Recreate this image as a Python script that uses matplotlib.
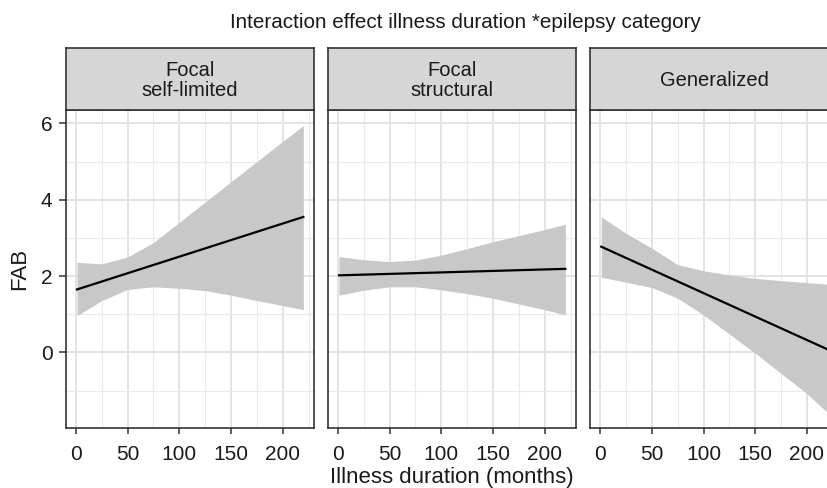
import matplotlib
matplotlib.use("Agg")
import matplotlib.pyplot as plt

plt.rcParams['font.family'] = ['Liberation Sans', 'DejaVu Sans']

# ---- data ----
panels = ["Focal\nself-limited", "Focal\nstructural", "Generalized"]
x_band = [1, 25, 50, 75, 100, 125, 150, 175, 200, 220]
upper_self = [2.36, 2.32, 2.50, 2.88, 3.41, 3.94, 4.47, 5.00, 5.53, 5.94]
lower_self = [0.96, 1.36, 1.65, 1.72, 1.68, 1.62, 1.50, 1.36, 1.23, 1.12]
upper_struct = [2.51, 2.43, 2.38, 2.42, 2.55, 2.72, 2.90, 3.06, 3.22, 3.36]
lower_struct = [1.50, 1.63, 1.72, 1.72, 1.64, 1.54, 1.42, 1.27, 1.12, 0.98]
upper_gen = [3.55, 3.12, 2.73, 2.30, 2.14, 2.03, 1.94, 1.88, 1.83, 1.79]
lower_gen = [1.97, 1.84, 1.70, 1.42, 0.98, 0.48, -0.02, -0.55, -1.08, -1.58]
x_line = [1, 220]
line_self = [1.65, 3.55]
line_struct = [2.02, 2.19]
line_gen = [2.77, 0.08]
x_ticks = [0, 50, 100, 150, 200]
y_ticks = [0, 2, 4, 6]

uppers = [upper_self, upper_struct, upper_gen]
lowers = [lower_self, lower_struct, lower_gen]
lines = [line_self, line_struct, line_gen]

W, H = 827, 488
fig = plt.figure(figsize=(W / 100, H / 100), dpi=100)

txt = "#1a1a1a"
border = "#333333"
lefts = [65.7, 327.7, 590.0]
pw = 248.0
ptop, pbot = 110.0, 427.7
stop = 48.0

for i, name in enumerate(panels):
    l = lefts[i]
    ax = fig.add_axes([l / W, (H - pbot) / H, pw / W, (pbot - ptop) / H])
    ax.set_xlim(-9.9, 230)
    ax.set_ylim(-1.97, 6.35)
    ax.set_xticks(x_ticks)
    ax.set_xticks([25, 75, 125, 175, 225], minor=True)
    ax.set_yticks(y_ticks)
    ax.set_yticks([-1, 1, 3, 5], minor=True)
    ax.grid(True, which="major", color="#e3e3e3", linewidth=1.4, zorder=0)
    ax.grid(True, which="minor", color="#eaeaea", linewidth=0.8, zorder=0)
    ax.set_axisbelow(True)
    ax.fill_between(x_band, lowers[i], uppers[i], color="#c8c8c8", linewidth=0, zorder=2)
    ax.plot(x_line, lines[i], color="black", linewidth=1.6, zorder=3)
    for s in ax.spines.values():
        s.set_color(border)
        s.set_linewidth(1.2)
        s.set_zorder(5)
    ax.tick_params(axis="x", which="major", length=4, width=1.1, color=border,
                   labelsize=15, labelcolor=txt, pad=8.5)
    ax.tick_params(axis="y", which="major", length=5, width=1.1, color=border,
                   labelsize=15, labelcolor=txt, pad=4.5)
    ax.tick_params(axis="both", which="minor", length=0)
    if i > 0:
        ax.tick_params(axis="y", which="major", length=0, labelleft=False)
    # strip
    sax = fig.add_axes([l / W, (H - ptop) / H, pw / W, (ptop - stop) / H])
    sax.set_xlim(0, 1)
    sax.set_ylim(0, 1)
    sax.set_xticks([])
    sax.set_yticks([])
    sax.set_facecolor("#d6d6d6")
    for s in sax.spines.values():
        s.set_color(border)
        s.set_linewidth(1.2)
    sax.text(0.5, 0.47, name, ha="center", va="center", fontsize=14.5,
             color=txt, linespacing=1.08)
    if i == 0:
        ax.set_ylabel("FAB", fontsize=16, color=txt, labelpad=8)

fig.text(465 / W, 1 - 22 / H,
         "Interaction effect illness duration *epilepsy category",
         ha="center", va="center", fontsize=14.9, color=txt)
fig.text((lefts[0] + lefts[2] + pw) / 2 / W, (H - 482.5) / H,
         "Illness duration (months)", ha="center", va="baseline",
         fontsize=16, color=txt)

fig.savefig("out.png", dpi=100)
